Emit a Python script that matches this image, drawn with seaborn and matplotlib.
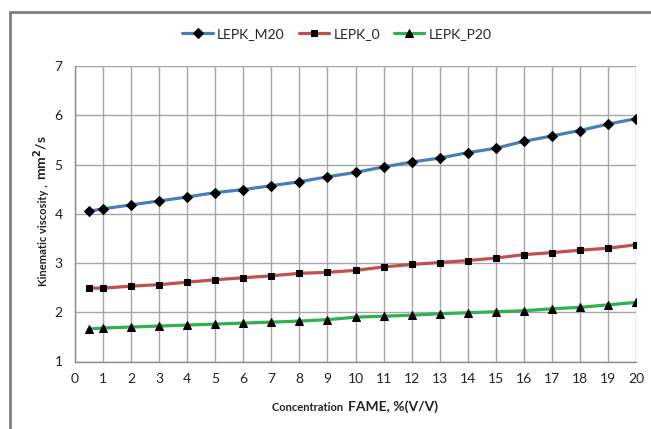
import matplotlib
matplotlib.use("Agg")
import matplotlib.pyplot as plt
import seaborn as sns
import pandas as pd

conc = [0.5, 1, 2, 3, 4, 5, 6, 7, 8, 9, 10, 11, 12, 13, 14, 15, 16, 17, 18, 19, 20]
lepk_m20 = [4.05, 4.10, 4.18, 4.26, 4.34, 4.43, 4.49, 4.57, 4.65, 4.75, 4.84, 4.95, 5.05, 5.13, 5.24, 5.33, 5.47, 5.58, 5.69, 5.82, 5.93]
lepk_0 = [2.49, 2.49, 2.53, 2.56, 2.61, 2.66, 2.70, 2.74, 2.79, 2.81, 2.85, 2.92, 2.97, 3.01, 3.05, 3.10, 3.17, 3.21, 3.26, 3.30, 3.37]
lepk_p20 = [1.66, 1.68, 1.70, 1.72, 1.74, 1.76, 1.78, 1.80, 1.82, 1.85, 1.90, 1.92, 1.94, 1.97, 1.99, 2.01, 2.03, 2.07, 2.10, 2.15, 2.20]
series_names = ["LEPK_M20", "LEPK_0", "LEPK_P20"]
x_ticks = list(range(0, 21))
y_ticks = [1, 2, 3, 4, 5, 6, 7]

colors = ["#4A7EBB", "#C0504D", "#2EB14E"]
markers = ["D", "s", "^"]
msizes = [5, 3.8, 6]

sns.set_style("white")
plt.rcParams["font.family"] = ["Lato", "DejaVu Sans"]

df = pd.DataFrame({"x": conc * 3,
                   "y": lepk_m20 + lepk_0 + lepk_p20,
                   "s": sum([[n] * len(conc) for n in series_names], [])})

fig = plt.figure(figsize=(6.51, 4.29), dpi=100)
W, H = 651, 429
ax = fig.add_axes([75 / W, 1 - 361.5 / H, (636 - 75) / W, (361.5 - 66) / H])

for name, c, m, ms in zip(series_names, colors, markers, msizes):
    sub = df[df["s"] == name]
    sns.lineplot(data=sub, x="x", y="y", ax=ax, color=c, linewidth=2.3,
                 marker=m, markersize=ms, markerfacecolor="black",
                 markeredgecolor="black", label=name, zorder=3)

ax.set_xlim(0, 20)
ax.set_ylim(1, 7)
ax.set_xticks(x_ticks)
ax.set_yticks(y_ticks)
ax.grid(True, color="#A6A6A6", linewidth=1.0)
ax.set_axisbelow(True)
for sp in ["top", "right"]:
    ax.spines[sp].set_visible(False)
for sp in ["left", "bottom"]:
    ax.spines[sp].set_color("#8C8C8C")
    ax.spines[sp].set_linewidth(1.0)
ax.tick_params(axis="both", which="both", direction="out", length=5,
               color="#8C8C8C", labelsize=10, labelcolor="#222222", pad=4)
ax.tick_params(axis="x", length=4)
ax.set_xlabel("")
ax.set_ylabel("")

ax.legend(loc="upper center", bbox_to_anchor=(337 / W, 1 - 28 / H),
          bbox_transform=fig.transFigure, ncol=3, frameon=False,
          fontsize=10, handlelength=2.2, columnspacing=1.0, handletextpad=0.3,
          borderaxespad=0, borderpad=0)

# axis titles with mixed sizes
fig.text(346 / W, 1 - 411 / H, "Concentration ", ha="right", va="baseline",
         fontsize=8, fontweight="bold", color="#222222")
fig.text(348 / W, 1 - 411 / H, "FAME, %(V/V)", ha="left", va="baseline",
         fontsize=10, fontweight="bold", color="#222222")
fig.text(47 / W, 1 - 182 / H, "Kinematic viscosity , ", ha="right", va="baseline",
         rotation=90, rotation_mode="anchor", fontsize=8, fontweight="bold",
         color="#222222")
fig.text(47 / W, 1 - 180 / H, "mm$^{\\mathbf{2}}$/s", ha="left", va="baseline",
         rotation=90, rotation_mode="anchor", fontsize=10, fontweight="bold",
         color="#222222")

# chart-area frame (top and left edges visible)
fig.add_artist(plt.Line2D([10 / W, 1], [1 - 12 / H, 1 - 12 / H], transform=fig.transFigure,
                          color="#7F7F7F", linewidth=2))
fig.add_artist(plt.Line2D([10 / W, 10 / W], [0, 1 - 12 / H], transform=fig.transFigure,
                          color="#7F7F7F", linewidth=2))

fig.savefig("out.png", dpi=100)
